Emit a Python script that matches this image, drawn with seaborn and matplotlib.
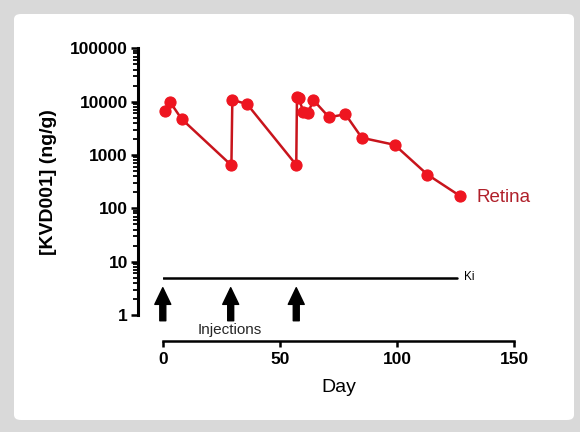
import numpy as np
import pandas as pd
import matplotlib
matplotlib.use("Agg")
import matplotlib.pyplot as plt
from matplotlib.patches import FancyBboxPatch
from matplotlib.ticker import LogLocator, NullFormatter, FixedLocator, FixedFormatter
import seaborn as sns

# Retina concentration of KVD001 over time (drawn in measurement order)
days = [1, 3, 8, 29.3, 29.7, 36, 57, 57.3, 58, 60, 62, 64.3, 71, 78, 85, 99, 113, 127]
conc = [6700, 10000, 4750, 640, 10800, 9000, 650, 12200, 11800, 6500, 6100, 10700,
        5100, 5800, 2100, 1550, 430, 170]

injection_days = [0, 29, 57]
ki_value = 5
ki_days = [0, 125.6]

y_ticks = [1, 10, 100, 1000, 10000, 100000]
y_tick_labels = ["1", "10", "100", "1000", "10000", "100000"]
x_ticks = [0, 50, 100, 150]
x_tick_labels = ["0", "50", "100", "150"]

df = pd.DataFrame({"Day": days, "Conc": conc})

sns.set_theme(style="ticks")
plt.rcParams["font.family"] = ["Liberation Sans", "DejaVu Sans"]

fig = plt.figure(figsize=(5.8, 4.32), dpi=100)
fig.patch.set_facecolor("#d9d9d9")
panel = FancyBboxPatch((14 / 580, 12 / 432), 560 / 580, 406 / 432,
                       boxstyle="round,pad=0,rounding_size=0.012",
                       transform=fig.transFigure, facecolor="white",
                       edgecolor="none", zorder=-10)
fig.patches.append(panel)

ax = fig.add_axes([162.8 / 580, 1 - 315 / 432, 351.2 / 580, 266.7 / 432])
ax.set_facecolor("none")
ax.set_zorder(5)

sns.lineplot(data=df, x="Day", y="Conc", sort=False, ax=ax, color="#c8141c",
             linewidth=1.8, marker="o", markersize=8,
             markerfacecolor="#ee1520", markeredgecolor="#ee1520",
             markeredgewidth=0.8, errorbar=None, estimator=None, clip_on=False)

ax.set_yscale("log")
ax.set_xlim(0, 150)
ax.set_ylim(1, 100000)

# Ki reference line
ax.plot(ki_days, [ki_value, ki_value], color="black", linewidth=1.8)
ax.text(128.8, ki_value * 1.05, "Ki", fontsize=8.5, va="center", ha="left",
        color="black")

# injection arrows
for d in injection_days:
    ax.annotate("", xy=(d, 3.25), xytext=(d, 0.78), annotation_clip=False,
                arrowprops=dict(facecolor="black", edgecolor="black",
                                width=4.3, headwidth=11.5, headlength=12,
                                shrink=0))
ax.text(15, 0.52, "Injections", fontsize=11, ha="left", va="center",
        clip_on=False)

ax.text(134, 158, "Retina", fontsize=13.5, color="#b0202a", ha="left", va="center")

# axes styling
for side in ["top", "right"]:
    ax.spines[side].set_visible(False)
ax.spines["left"].set_position(("outward", 18.1))
ax.spines["bottom"].set_position(("outward", 18.5))
ax.spines["left"].set_linewidth(2.2)
ax.spines["bottom"].set_linewidth(1.8)
ax.spines["left"].set_color("black")
ax.spines["bottom"].set_color("black")

ax.yaxis.set_major_locator(FixedLocator(y_ticks))
ax.yaxis.set_major_formatter(FixedFormatter(y_tick_labels))
ax.yaxis.set_minor_locator(LogLocator(base=10, subs=np.arange(2, 10)))
ax.yaxis.set_minor_formatter(NullFormatter())
ax.xaxis.set_major_locator(FixedLocator(x_ticks))
ax.xaxis.set_major_formatter(FixedFormatter(x_tick_labels))

ax.tick_params(axis="y", which="major", length=5, width=1.8, color="black",
               labelsize=12.5, pad=2, labelcolor="black")
ax.tick_params(axis="y", which="minor", length=3.5, width=1.3, color="black")
ax.tick_params(axis="x", which="major", length=4, width=1.8, color="black",
               labelsize=12.5, pad=4, labelcolor="black")
for lab in ax.get_xticklabels() + ax.get_yticklabels():
    lab.set_fontweight("bold")

ax.set_xlabel("Day", fontsize=14, color="black")
ax.set_ylabel("[KVD001] (ng/g)", fontsize=14, fontweight="bold", color="black")
ax.xaxis.set_label_coords(0.5, -0.24)
ax.yaxis.set_label_coords(-0.30, 0.5)

fig.savefig("out.png", dpi=100, facecolor=fig.get_facecolor())
